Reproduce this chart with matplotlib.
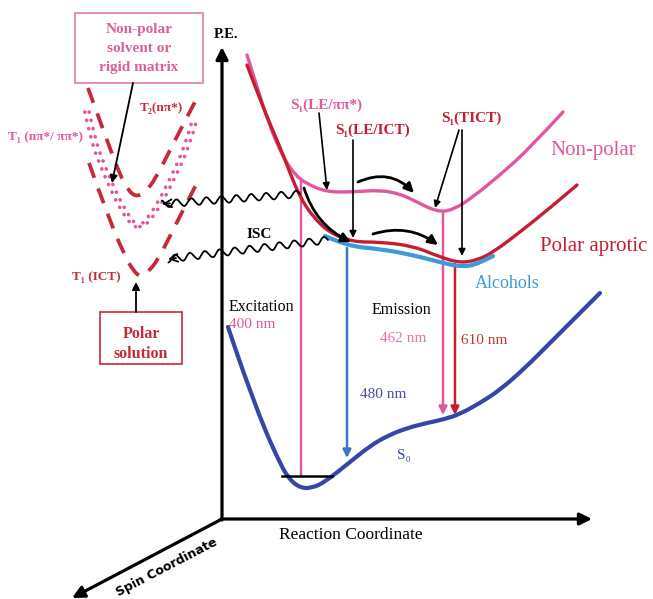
import numpy as np
import matplotlib
matplotlib.use("Agg")
import matplotlib.pyplot as plt
from matplotlib.path import Path
from matplotlib.patches import PathPatch, FancyArrowPatch, Rectangle

# ---------------- data (pixel-space schematic control points) ----------------
nonpolar_x = [247, 258, 270, 283, 295, 307, 327, 353, 380, 400, 413, 437, 453, 473, 500, 530, 563]
nonpolar_y = [55, 90, 127, 157, 175, 184, 192, 192, 190, 194, 200, 212, 210, 197, 175, 148, 112]

aprotic_x = [247, 262, 280, 290, 300, 313, 330, 353, 380, 413, 440, 460, 478, 495, 520, 550, 577]
aprotic_y = [65, 105, 147, 173, 197, 217, 233, 242, 242, 246, 257, 263, 260, 251, 232, 208, 185]

alcohol_x = [325, 347, 380, 413, 443, 462, 478, 493]
alcohol_y = [236, 246, 249, 255, 263, 267, 264, 256]

s0_x = [228, 238, 250, 263, 277, 288, 300, 312, 325, 350, 370, 387, 407, 427, 445, 460, 480, 500, 525, 550, 575, 600]
s0_y = [327, 357, 390, 425, 457, 478, 488, 488, 482, 462, 446, 436, 428, 423, 419, 414, 403, 390, 368, 343, 318, 293]

t2_x = [88, 105, 120, 128, 136, 145, 155, 175, 197]
t2_y = [88, 135, 175, 190, 197, 192, 180, 140, 98]

t1ict_x = [89, 110, 126, 133, 140, 148, 158, 178, 200]
t1ict_y = [163, 222, 258, 270, 277, 272, 260, 220, 177]

t1n_x = [87, 93, 103, 113, 123, 132, 138, 147, 160, 173, 187, 194]
t1n_y = [112, 140, 167, 190, 210, 223, 228, 222, 203, 177, 147, 122]

# transitions: (x, y_start, y_end)
excitation = (301, 476, 179)
em_480 = (347, 248, 458)
em_462 = (443, 213, 415)
em_610 = (455, 264, 415)

# ---------------- colours ----------------
PINK = "#e0579f"
RED = "#c41e32"
LBLUE = "#3d9ad8"
DBLUE = "#3646a6"
MBLUE = "#3a78c6"
DRED = "#c42a38"
SERIF = ["Liberation Serif", "DejaVu Serif"]

fig = plt.figure(figsize=(6.53, 5.99), dpi=100)
ax = fig.add_axes([0, 0, 1, 1])
ax.set_xlim(0, 653)
ax.set_ylim(599, 0)
ax.axis("off")


def smooth(xs, ys, **kw):
    pts = list(zip(xs, ys))
    verts = [pts[0]]
    codes = [Path.MOVETO]
    n = len(pts)
    for i in range(1, n - 1):
        if i < n - 2:
            end = ((pts[i][0] + pts[i + 1][0]) / 2, (pts[i][1] + pts[i + 1][1]) / 2)
        else:
            end = pts[-1]
        verts += [pts[i], end]
        codes += [Path.CURVE3, Path.CURVE3]
    if n == 2:
        verts.append(pts[1]); codes.append(Path.LINETO)
    p = PathPatch(Path(verts, codes), fill=False, **kw)
    ax.add_patch(p)
    return p


def arrow(x0, y0, x1, y1, color="black", lw=1.3, ms=11, style="-|>", rad=0.0, z=6):
    a = FancyArrowPatch((x0, y0), (x1, y1), arrowstyle=style, mutation_scale=ms,
                        color=color, lw=lw, connectionstyle=f"arc3,rad={rad}",
                        shrinkA=0, shrinkB=0, zorder=z)
    ax.add_patch(a)


def wavy(x0, y0, x1, y1, amp=3.5, period=15.0):
    L = np.hypot(x1 - x0, y1 - y0)
    u = np.array([(x1 - x0) / L, (y1 - y0) / L])
    nrm = np.array([-u[1], u[0]])
    s = np.linspace(0, L, 600)
    off = amp * np.sin(2 * np.pi * s / period)
    xs = x0 + s * u[0] + off * nrm[0]
    ys = y0 + s * u[1] + off * nrm[1]
    ax.plot(xs, ys, color="black", lw=1.3, zorder=5, solid_capstyle="round")
    ax.annotate("", xy=(x1, y1), xytext=(x1 - 8 * u[0], y1 - 8 * u[1]),
                arrowprops=dict(arrowstyle="->", lw=1.3, mutation_scale=14, color="black",
                                shrinkA=0, shrinkB=0), zorder=5)


# ---------------- axes of the diagram ----------------
O = (222, 519)
arrow(O[0], O[1] + 1, 222, 47, lw=2.3, ms=18, z=3)
arrow(O[0] - 1, O[1], 592, 519, lw=2.3, ms=18, z=3)
arrow(O[0], O[1], 72, 598, lw=2.3, ms=18, z=3)
ax.text(226, 35, "P.E.", fontsize=10.5, fontweight="bold", family=SERIF, ha="center", va="center")
ax.text(351, 535, "Reaction Coordinate", fontsize=12.5, family=SERIF, ha="center", va="center")
ax.text(167, 567, "Spin Coordinate", fontsize=9, fontweight="heavy", family=["DejaVu Sans"],
        ha="center", va="center", rotation=27.5)

# ---------------- potential energy curves ----------------
smooth(s0_x, s0_y, color=DBLUE, lw=3.0, zorder=4, capstyle="round")
smooth(nonpolar_x, nonpolar_y, color=PINK, lw=2.4, zorder=4, capstyle="round")
smooth(aprotic_x, aprotic_y, color=RED, lw=2.4, zorder=4, capstyle="round")
smooth(alcohol_x, alcohol_y, color=LBLUE, lw=3.0, zorder=4, capstyle="round")

# zero-point level
ax.plot([282, 332], [476, 476], color="black", lw=1.8, zorder=5)

# transitions
ax.plot([excitation[0]] * 2, [excitation[1], excitation[2]], color=PINK, lw=1.7, zorder=3)
arrow(em_480[0], em_480[1], em_480[0], em_480[2], color=MBLUE, lw=1.8, ms=12, z=3)
arrow(em_462[0], em_462[1], em_462[0], em_462[2], color=PINK, lw=1.8, ms=12, z=3)
arrow(em_610[0], em_610[1], em_610[0], em_610[2], color=RED, lw=1.8, ms=12, z=3)

# ---------------- labels ----------------
ax.text(550, 150, "Non-polar", color=PINK, fontsize=15, family=SERIF, ha="left", va="center")
ax.text(540, 247, "Polar aprotic", color=RED, fontsize=15, family=SERIF, ha="left", va="center")
ax.text(475, 283, "Alcohols", color=LBLUE, fontsize=13, family=SERIF, ha="left", va="center")
ax.text(229, 307, "Excitation", color="black", fontsize=11.5, family=SERIF, ha="left", va="center")
ax.text(229, 325, "400 nm", color=PINK, fontsize=11, family=SERIF, ha="left", va="center")
ax.text(372, 310, "Emission", color="black", fontsize=11.5, family=SERIF, ha="left", va="center")
ax.text(380, 339, "462 nm", color="#e673ad", fontsize=11, family=SERIF, ha="left", va="center")
ax.text(461, 340, "610 nm", color="#c0392b", fontsize=11, family=SERIF, ha="left", va="center")
ax.text(360, 395, "480 nm", color="#4b4ca0", fontsize=11, family=SERIF, ha="left", va="center")
ax.text(397, 455, "S₀", color=DBLUE, fontsize=11, family=SERIF, ha="left", va="center")

ax.text(290, 105, "S₁(LE/ππ*)", color=PINK, fontsize=11, fontweight="bold", family=SERIF, ha="left", va="center")
ax.text(335, 130, "S₁(LE/ICT)", color=RED, fontsize=11, fontweight="bold", family=SERIF, ha="left", va="center")
ax.text(441, 118, "S₁(TICT)", color=RED, fontsize=11, fontweight="bold", family=SERIF, ha="left", va="center")
ax.text(247, 235, "ISC", color="black", fontsize=11, fontweight="bold", family=SERIF, ha="left", va="center")

# pointer arrows
arrow(319, 113, 327, 190, lw=1.2, ms=10, z=7)
arrow(353, 140, 353, 238, lw=1.2, ms=10, z=7)
arrow(459, 130, 435, 208, lw=1.2, ms=10, z=7)
arrow(462, 130, 462, 256, lw=1.2, ms=10, z=7)

# process arrows (curved)
arrow(358, 182, 414, 193, lw=2.0, ms=14, rad=-0.35, z=7)
arrow(373, 234, 438, 245, lw=2.0, ms=14, rad=-0.25, z=7)
arrow(304, 188, 351, 242, lw=2.0, ms=14, rad=0.22, z=7)

# ISC wavy arrows
wavy(300, 194, 162, 204)
wavy(328, 240, 168, 259)

# ---------------- triplet manifold ----------------
smooth(t2_x, t2_y, color=DRED, lw=2.7, zorder=2, linestyle=(0, (4.2, 3.0)))
smooth(t1ict_x, t1ict_y, color=DRED, lw=2.7, zorder=2, linestyle=(0, (4.2, 3.0)))
for dx in (-2.2, 2.2):
    smooth([x + dx for x in t1n_x], t1n_y, color=PINK, lw=2.6, zorder=2,
           linestyle=(0, (0.05, 2.3)), capstyle="round")

ax.text(8, 137, "T₁ (nπ*/ ππ*)", color=PINK, fontsize=9.5, fontweight="bold", family=SERIF, ha="left", va="center")
ax.text(140, 108, "T₂(nπ*)", color=DRED, fontsize=9.5, fontweight="bold", family=SERIF, ha="left", va="center")
ax.text(72, 277, "T₁ (ICT)", color=DRED, fontsize=9.5, fontweight="bold", family=SERIF, ha="left", va="center")

# boxes
ax.add_patch(Rectangle((75, 13), 128, 70, fill=False, edgecolor="#e07aae", lw=1.2, zorder=3))
for yy, t in zip([30, 49, 68], ["Non-polar", "solvent or", "rigid matrix"]):
    ax.text(139, yy, t, color="#d9609c", fontsize=11, fontweight="bold", family=SERIF, ha="center", va="center")
arrow(133, 83, 112, 183, lw=1.3, ms=11, z=7)

ax.add_patch(Rectangle((100, 312), 82, 52, fill=False, edgecolor=DRED, lw=1.2, zorder=3))
for yy, t in zip([334, 354], ["Polar", "solution"]):
    ax.text(141, yy, t, color=DRED, fontsize=11.5, fontweight="bold", family=SERIF, ha="center", va="center")
arrow(136, 312, 136, 282, lw=1.3, ms=11, z=7)

fig.savefig("out.png", dpi=100, facecolor="white")
